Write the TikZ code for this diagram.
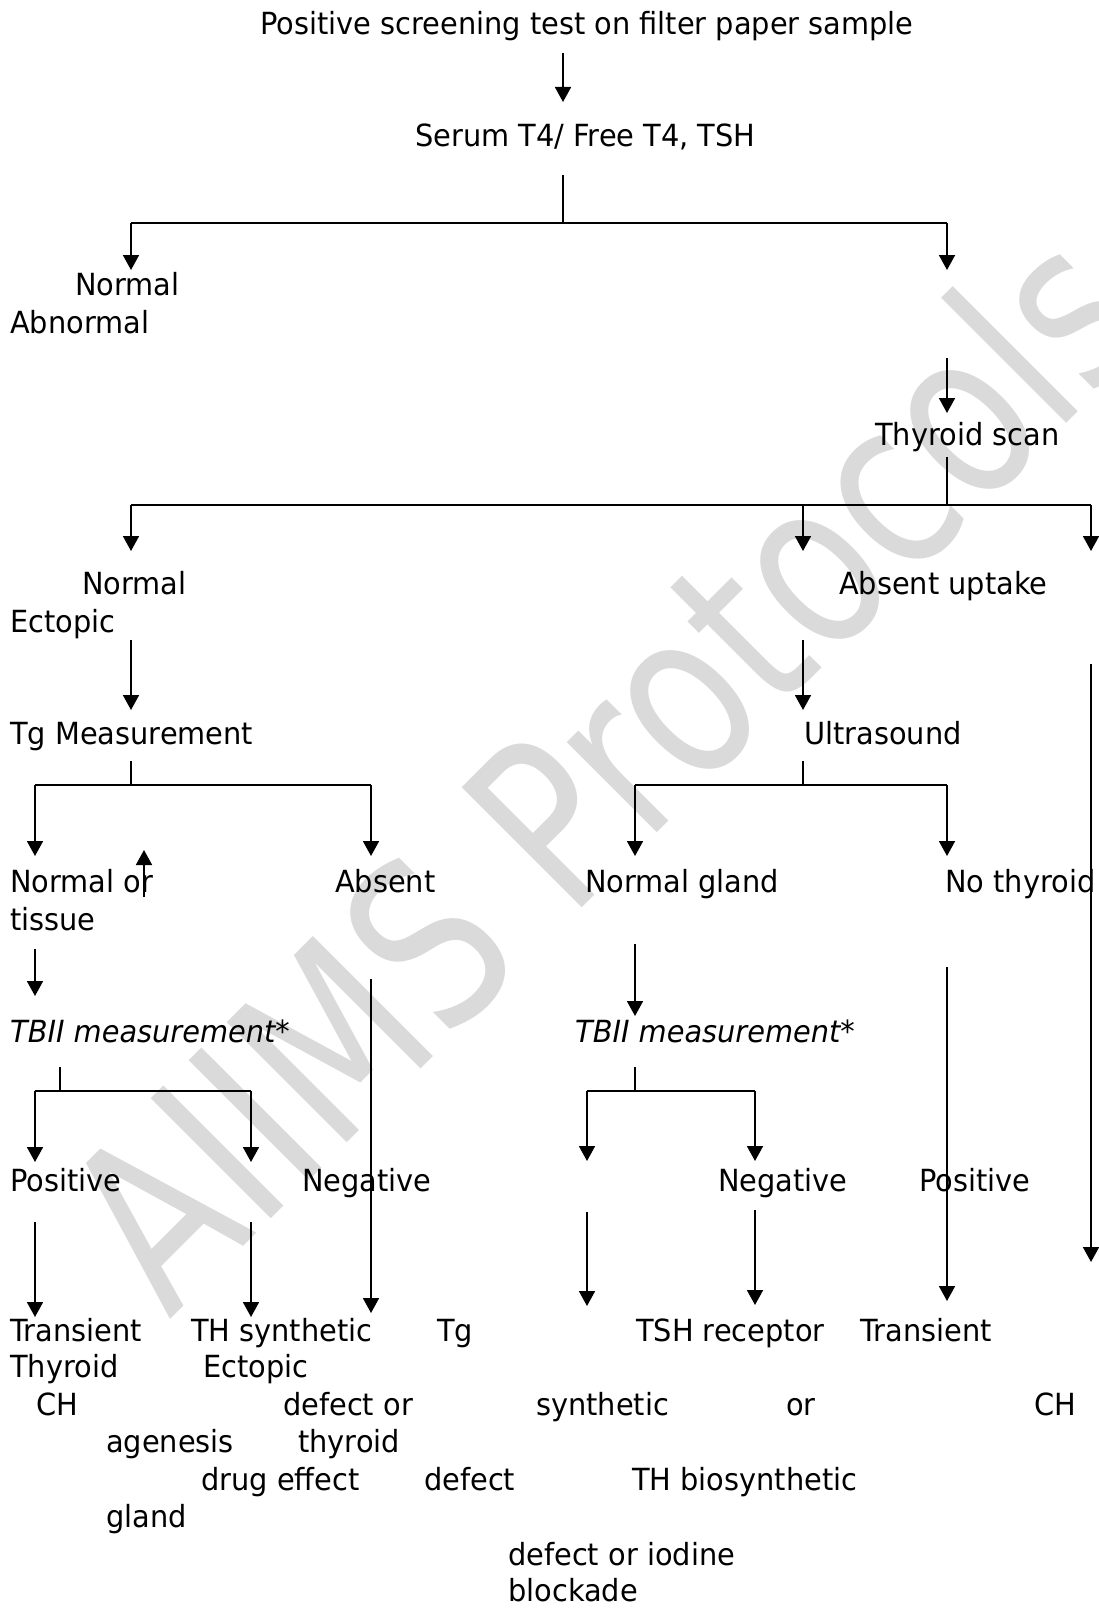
\documentclass[tikz,border=0pt]{standalone}
\usepackage{fontspec}
\setmainfont{DejaVu Sans}[FakeStretch=0.945]
\newfontfamily\markfont{DejaVu Sans}[FakeStretch=0.785]
\usetikzlibrary{arrows.meta, positioning}
\definecolor{cMark}{RGB}{218,218,218}
\tikzset{
	lbl/.style      ={anchor=base west, inner sep=0pt, font=\fontsize{30.5}{36}\selectfont},
	ital/.style     ={lbl, font=\fontsize{30.5}{36}\selectfont\itshape},
	flowarrow/.style={-{Triangle[width=16pt, length=15pt]}, line width=1.8pt},
	stem/.style     ={line width=1.8pt},
	bus/.style      ={line width=2.4pt},
}

\begin{document}
\begin{tikzpicture}[x=1pt, y=-1pt]
\useasboundingbox (0,0) rectangle (1099,1608);
% watermark
\node[font=\markfont\fontsize{233}{240}\selectfont, text=cMark, rotate=45, anchor=base, inner sep=0pt] (mark) at (664,826) {AIIMS Protocols};

% labels
\node[lbl] (top) at (260,35) {Positive screening test on filter paper sample};
\node[lbl] (serum) at (415,147) {Serum T4/ Free T4, TSH};
\node[lbl] (nrmA) at (75,295) {Normal};
\node[lbl] (abn) at (10,333) {Abnormal};
\node[lbl] (tscan) at (875,445) {Thyroid scan};
\node[lbl] (nrmB) at (82,594) {Normal};
\node[lbl] (ect) at (10,632) {Ectopic};
\node[lbl] (absup) at (839,594) {Absent uptake};
\node[lbl] (tgm) at (10,744) {Tg Measurement};
\node[lbl] (us) at (804,744) {Ultrasound};
\node[lbl] (nrmor) at (10,892) {Normal or};
\node[lbl] (tissue) at (10,930) {tissue};
\node[lbl] (absent) at (335,892) {Absent};
\node[lbl] (ngland) at (585,892) {Normal gland};
\node[lbl] (nothy) at (945,892) {No thyroid};
\node[ital] (tbiiA) at (10,1042) {TBII measurement*};
\node[ital] (tbiiB) at (575,1042) {TBII measurement*};
\node[lbl] (posA) at (10,1191) {Positive};
\node[lbl] (negA) at (302,1191) {Negative};
\node[lbl] (negB) at (718,1191) {Negative};
\node[lbl] (posB) at (919,1191) {Positive};
\node[lbl] (transA) at (10,1341) {Transient};
\node[lbl] (thsyn) at (191,1341) {TH synthetic};
\node[lbl] (tg) at (437,1341) {Tg};
\node[lbl] (tshr) at (636,1341) {TSH receptor};
\node[lbl] (transB) at (860,1341) {Transient};
\node[lbl] (thyrA) at (10,1377) {Thyroid};
\node[lbl] (ectB) at (203,1377) {Ectopic};
\node[lbl] (chA) at (36,1415) {CH};
\node[lbl] (defor) at (283,1415) {defect or};
\node[lbl] (synth) at (536,1415) {synthetic};
\node[lbl] (orB) at (786,1415) {or};
\node[lbl] (chB) at (1034,1415) {CH};
\node[lbl] (agen) at (106,1452) {agenesis};
\node[lbl] (thyrB) at (298,1452) {thyroid};
\node[lbl] (drug) at (201,1490) {drug effect};
\node[lbl] (defect) at (424,1490) {defect};
\node[lbl] (thbio) at (632,1490) {TH biosynthetic};
\node[lbl] (gland) at (106,1527) {gland};
\node[lbl] (defiod) at (508,1565) {defect or iodine};
\node[lbl] (block) at (508,1601) {blockade};

% connector ends
\foreach \c/\x/\y in {s1/563/53, e1/563/102,
	s2/563/175, f2/563/223, l2/131/223, r2/947/223, tl2/131/270, tr2/947/270,
	s3/947/358, e3/947/413,
	s4/947/457, f4/947/505, l4/131/505, m4/803/505, r4/1091/505, tl4/131/551, tm4/803/551, tr4/1091/551,
	s5/131/640, e5/131/710, s6/803/640, e6/803/710, s7/1091/664, e7/1091/1262,
	s8/131/761, f8/131/785, l8/35/785, r8/371/785, tl8/35/856, tr8/371/856,
	s9/144/897, e9/144/850,
	s10/803/761, f10/803/785, l10/635/785, r10/947/785, tl10/635/856, tr10/947/856,
	s11/35/949, e11/35/996, s12/371/979, e12/371/1313,
	s13/635/944, e13/635/1016, s14/947/967, e14/947/1301,
	s15/60/1067, f15/60/1091, l15/35/1091, r15/251/1091, tl15/35/1162, tr15/251/1162,
	s16/635/1067, f16/635/1091, l16/587/1091, r16/755/1091, tl16/587/1161, tr16/755/1161,
	s17/35/1222, e17/35/1317, s18/251/1222, e18/251/1317,
	s19/587/1212, e19/587/1306, s20/755/1210, e20/755/1305}
	\coordinate (\c) at (\x,\y);

% stems and buses
\foreach \a/\b in {s2/f2, s4/f4, s8/f8, s10/f10, s15/f15, s16/f16}
	\draw[stem] (\a) -- (\b);
\foreach \a/\b in {l2/r2, l4/r4, l8/r8, l10/r10, l15/r15, l16/r16}
	\draw[bus] (\a) -- (\b);

% arrows
\foreach \a/\b in {s1/e1, l2/tl2, r2/tr2, s3/e3, l4/tl4, m4/tm4, r4/tr4, s5/e5, s6/e6, s7/e7,
	l8/tl8, r8/tr8, s9/e9, l10/tl10, r10/tr10, s11/e11, s12/e12, s13/e13, s14/e14,
	l15/tl15, r15/tr15, l16/tl16, r16/tr16, s17/e17, s18/e18, s19/e19, s20/e20}
	\draw[flowarrow] (\a) -- (\b);
\end{tikzpicture}
\end{document}
